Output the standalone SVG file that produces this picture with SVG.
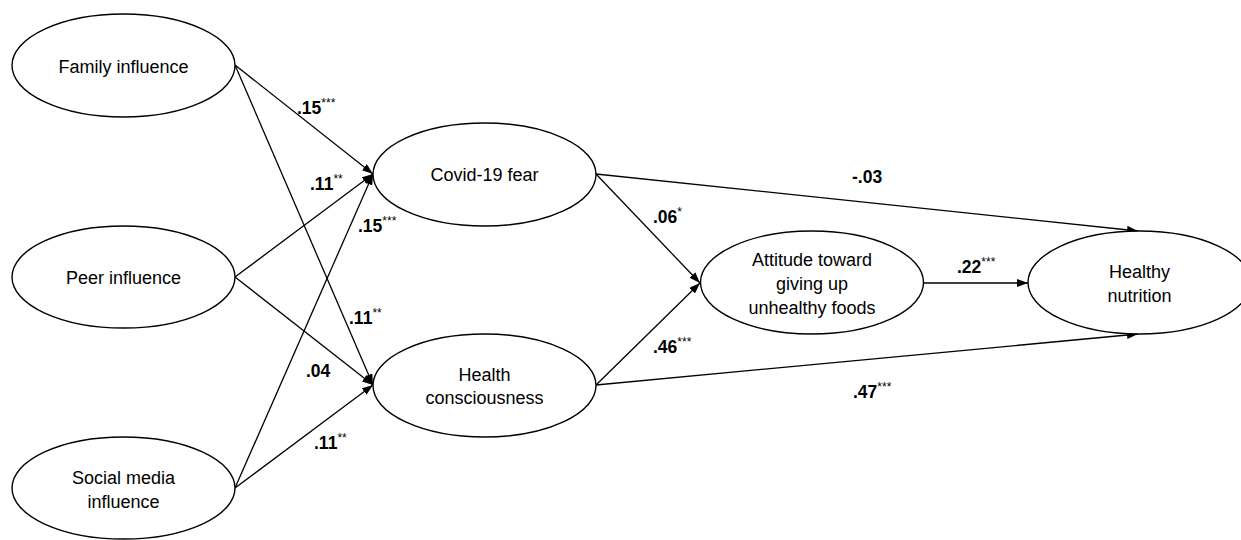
<svg xmlns="http://www.w3.org/2000/svg" width="1241" height="540" viewBox="0 0 1241 540">
<style>
.node ellipse{fill:#fff;stroke:#000;stroke-width:1.4}
.node text{font-family:"Liberation Sans",Arial,sans-serif;font-size:18px;text-anchor:middle;fill:#000}
.edges line{stroke:#000;stroke-width:1.3;marker-end:url(#arr)}
.lbl{font-family:"Liberation Sans",Arial,sans-serif;font-size:17.5px;font-weight:bold;fill:#000}
.sup{font-size:12px;font-weight:normal;fill:#000}
</style>
<defs>
<marker id="arr" markerUnits="userSpaceOnUse" markerWidth="11" markerHeight="8" refX="11" refY="4" orient="auto">
<path d="M0,0 L11,4 L0,8 z" fill="#000"/>
</marker>
</defs>
<rect width="1241" height="540" fill="#fff"/>
<g class="edges">
<line x1="235" y1="65" x2="373" y2="174"/>
<line x1="235" y1="65" x2="373" y2="385"/>
<line x1="235" y1="277" x2="373" y2="174"/>
<line x1="235" y1="277" x2="373" y2="385"/>
<line x1="235" y1="488" x2="373" y2="174"/>
<line x1="235" y1="488" x2="373" y2="385"/>
<line x1="596" y1="174" x2="700" y2="283"/>
<line x1="596" y1="385" x2="700" y2="283"/>
<line x1="596" y1="174" x2="1138" y2="231"/>
<line x1="596" y1="385" x2="1138" y2="334"/>
<line x1="924" y1="283" x2="1028" y2="283"/>
</g>
<g id="family" class="node"><ellipse cx="123.5" cy="65.5" rx="111.5" ry="51.5"/><text x="123.5" y="73">Family influence</text></g>
<g id="peer" class="node"><ellipse cx="123.5" cy="277" rx="111.5" ry="51"/><text x="123.5" y="284">Peer influence</text></g>
<g id="social" class="node"><ellipse cx="123.5" cy="488" rx="111.5" ry="51"/><text x="123.5" y="484">Social media</text><text x="123.5" y="508">influence</text></g>
<g id="covid" class="node"><ellipse cx="484.5" cy="174.5" rx="111.5" ry="51.5"/><text x="484.5" y="181">Covid-19 fear</text></g>
<g id="health" class="node"><ellipse cx="484.5" cy="385.5" rx="111.5" ry="51.5"/><text x="484.5" y="381">Health</text><text x="484.5" y="404">consciousness</text></g>
<g id="attitude" class="node"><ellipse cx="812" cy="282.5" rx="111.5" ry="51.5"/><text x="812" y="266">Attitude toward</text><text x="812" y="290">giving up</text><text x="812" y="313.5">unhealthy foods</text></g>
<g id="nutrition" class="node"><ellipse cx="1139.5" cy="282.5" rx="111.5" ry="51.5"/><text x="1139.5" y="278">Healthy</text><text x="1139.5" y="301.5">nutrition</text></g>
<g id="labels">
<text class="lbl" x="297" y="114">.15<tspan class="sup" dy="-7">***</tspan></text>
<text class="lbl" x="310" y="190">.11<tspan class="sup" dy="-7">**</tspan></text>
<text class="lbl" x="358" y="232">.15<tspan class="sup" dy="-7">***</tspan></text>
<text class="lbl" x="349" y="324">.11<tspan class="sup" dy="-7">**</tspan></text>
<text class="lbl" x="306" y="377">.04</text>
<text class="lbl" x="314" y="449">.11<tspan class="sup" dy="-7">**</tspan></text>
<text class="lbl" x="653" y="223">.06<tspan class="sup" dy="-7">*</tspan></text>
<text class="lbl" x="653" y="353">.46<tspan class="sup" dy="-7">***</tspan></text>
<text class="lbl" x="852" y="183">-.03</text>
<text class="lbl" x="957" y="273">.22<tspan class="sup" dy="-7">***</tspan></text>
<text class="lbl" x="853" y="398">.47<tspan class="sup" dy="-7">***</tspan></text>
</g>
</svg>
